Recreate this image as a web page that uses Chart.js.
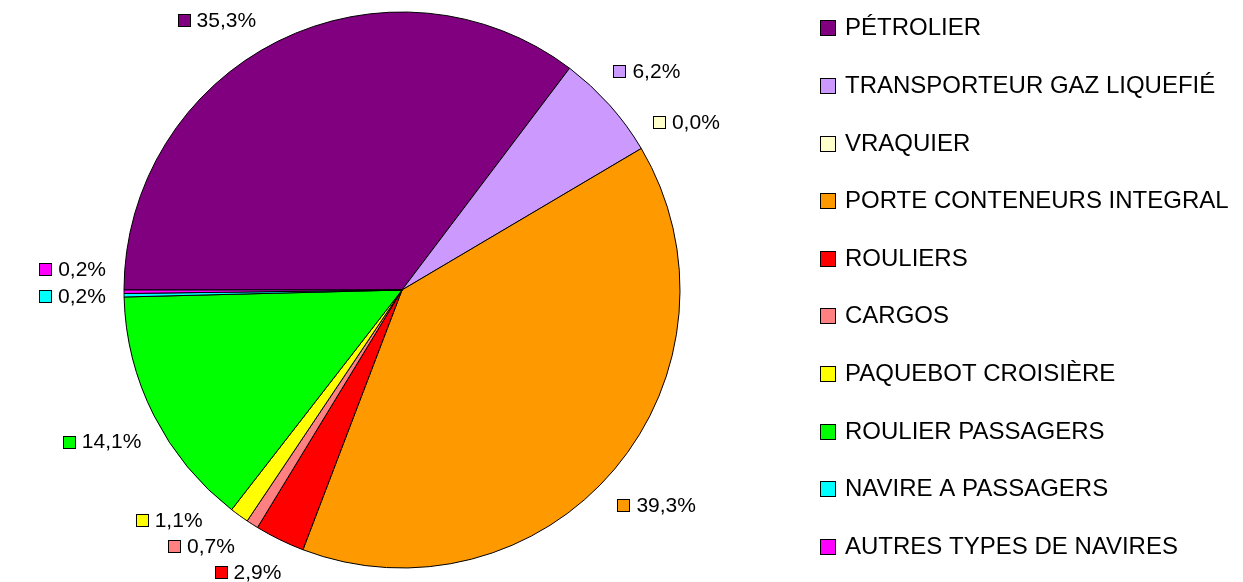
<!DOCTYPE html>
<html>
<head>
<meta charset="utf-8">
<script src="https://cdn.jsdelivr.net/npm/chart.js@4.4.1/dist/chart.umd.min.js"></script>
<style>
  body { margin: 0; background: #fff; }
  #wrap { width: 1243px; height: 582px; }
</style>
</head>
<body>
<div id="wrap"><canvas id="myChart" width="1243" height="582"></canvas></div>
<script>
  // ship types and their share (%)
  const categories = [
    'PÉTROLIER',
    'TRANSPORTEUR GAZ LIQUEFIÉ',
    'VRAQUIER',
    'PORTE CONTENEURS INTEGRAL',
    'ROULIERS',
    'CARGOS',
    'PAQUEBOT CROISIÈRE',
    'ROULIER PASSAGERS',
    'NAVIRE A PASSAGERS',
    'AUTRES TYPES DE NAVIRES'
  ];
  const shares = [35.3, 6.2, 0.0, 39.3, 2.9, 0.7, 1.1, 14.1, 0.2, 0.2];
  const colors = ['#800080', '#CC99FF', '#FFFFCC', '#FF9900', '#FF0000',
                  '#FF8080', '#FFFF00', '#00FF00', '#00FFFF', '#FF00FF'];

  const FONT = '"Liberation Sans", Arial, sans-serif';

  function fmt(v) {
    return v.toFixed(1).replace('.', ',') + '%';
  }

  // value labels with a small colour square, pushed apart when they collide
  const pieLabels = {
    id: 'pieLabels',
    afterDatasetsDraw(chart) {
      const ctx = chart.ctx;
      const meta = chart.getDatasetMeta(0);
      const H = chart.height;
      const gap = 18, boxH = 22, sq = 12, sp = 7;
      ctx.save();
      ctx.font = '21px ' + FONT;
      const placed = [];
      meta.data.forEach((arc, i) => {
        const p = arc.getProps(['x', 'y', 'startAngle', 'endAngle', 'outerRadius'], true);
        const text = fmt(shares[i]);
        const w = sq + sp + ctx.measureText(text).width;
        const mid = (p.startAngle + p.endAngle) / 2;
        const boxAt = (a) => {
          const ux = Math.cos(a), uy = Math.sin(a);
          const d = p.outerRadius + gap + (w / 2) * Math.abs(ux) + (boxH / 2) * Math.abs(uy);
          const cx = p.x + d * ux, cy = p.y + d * uy;
          return {a, mid, cx, cy, l: cx - w / 2, r: cx + w / 2, t: cy - boxH / 2, b: cy + boxH / 2};
        };
        const hits = (b) => placed.find(o => b.l < o.r + 3 && b.r > o.l - 3 && b.t < o.b + 3 && b.b > o.t - 3);
        let a = mid;
        let b = boxAt(a);
        let dir = 0;
        for (let k = 0; k < 240; k++) {
          const other = hits(b);
          let step = 0;
          if (other) {
            if (!dir) dir = (mid >= other.mid ? 1 : -1);
            step = dir;
          } else if (b.t < 9) step = (a < -Math.PI / 2 ? -1 : 1);
          else if (b.b > H + 2) step = (a > Math.PI / 2 ? 1 : -1);
          if (!step) break;
          a += step * Math.PI / 360;
          b = boxAt(a);
        }
        placed.push(b);
        const sy = Math.round(b.cy - sq / 2) + 0.5, sx = Math.round(b.l) + 0.5;
        ctx.fillStyle = colors[i];
        ctx.fillRect(sx, sy, sq, sq);
        ctx.strokeStyle = '#000';
        ctx.lineWidth = 1;
        ctx.strokeRect(sx, sy, sq, sq);
        ctx.fillStyle = '#000';
        ctx.textBaseline = 'middle';
        ctx.textAlign = 'left';
        ctx.fillText(text, b.l + sq + sp, b.cy + 1);
      });
      ctx.restore();
    }
  };

  // legend column on the right
  const sideLegend = {
    id: 'sideLegend',
    afterDraw(chart) {
      const ctx = chart.ctx;
      const area = chart.chartArea;
      const x0 = area.right + 16, step = 57.6, box = 15;
      const y0 = (area.top + area.bottom) / 2 - 3 - step * (categories.length - 1) / 2;
      ctx.save();
      ctx.font = '24px ' + FONT;
      ctx.textBaseline = 'middle';
      ctx.textAlign = 'left';
      categories.forEach((name, i) => {
        const y = y0 + i * step;
        const by = Math.round(y - box / 2) + 0.5;
        ctx.fillStyle = colors[i];
        ctx.fillRect(x0 + 0.5, by, box, box);
        ctx.strokeStyle = '#000';
        ctx.lineWidth = 1;
        ctx.strokeRect(x0 + 0.5, by, box, box);
        ctx.fillStyle = '#000';
        ctx.fillText(name, x0 + box + 10, y + 1);
      });
      ctx.restore();
    }
  };

  const config = {
    type: 'pie',
    data: {
      labels: categories,
      datasets: [{
        data: shares,
        backgroundColor: colors,
        borderColor: '#000',
        borderWidth: 1
      }]
    },
    options: {
      animation: false,
      responsive: false,
      rotation: -90,
      radius: 278,
      layout: { padding: { top: 12, bottom: 14, left: 0, right: 439 } },
      plugins: {
        tooltip: { enabled: false },
        legend: { display: false }
      }
    },
    plugins: [pieLabels, sideLegend]
  };

  const myChart = new Chart(document.getElementById('myChart'), config);
</script>
</body>
</html>
